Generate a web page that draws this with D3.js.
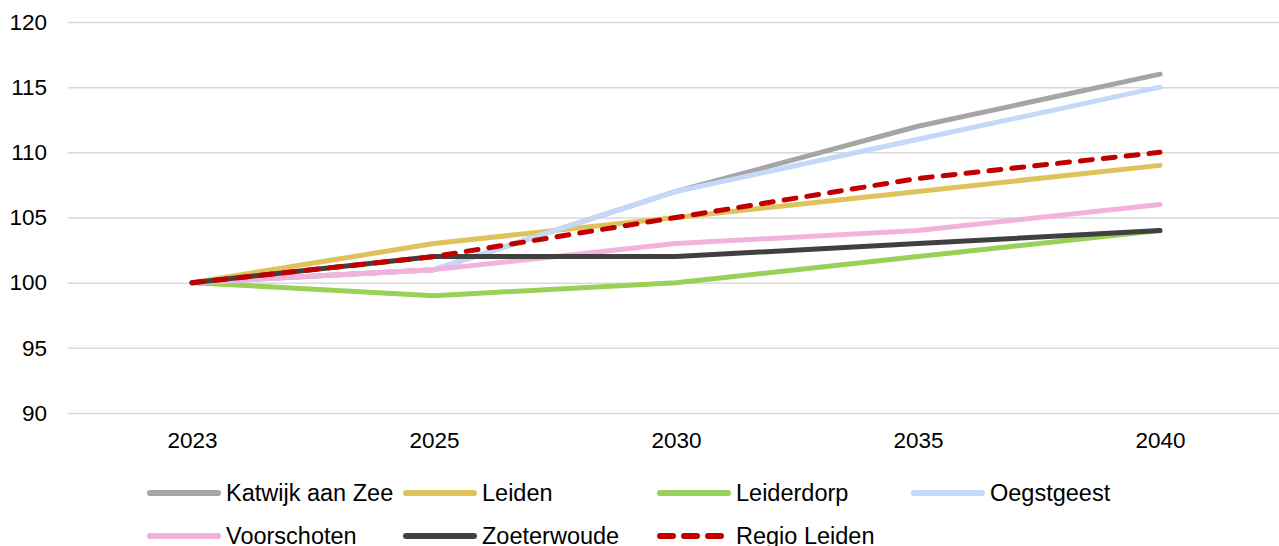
<!DOCTYPE html>
<html>
<head>
<meta charset="utf-8">
<script src="https://cdn.jsdelivr.net/npm/d3@7"></script>
<style>
  body { margin: 0; background: #fff; }
  svg { display: block; font-family: Arial, "Liberation Sans", sans-serif; }
</style>
</head>
<body>
<script>
// chart values
const years = ['2023', '2025', '2030', '2035', '2040']
const yTicks = [90, 95, 100, 105, 110, 115, 120]

const katwijk     = [100, 101, 107, 112, 116]
const leiden      = [100, 103, 105, 107, 109]
const leiderdorp  = [100, 99, 100, 102, 104]
const oegstgeest  = [100, 101, 107, 111, 115]
const voorschoten = [100, 101, 103, 104, 106]
const zoeterwoude = [100, 102, 102, 103, 104]
const regio       = [100, 102, 105, 108, 110]

const series = [
    { name: 'Katwijk aan Zee', values: katwijk, color: '#a5a5a5' },
    { name: 'Leiden', values: leiden, color: '#dec35c' },
    { name: 'Leiderdorp', values: leiderdorp, color: '#99d058' },
    { name: 'Oegstgeest', values: oegstgeest, color: '#c4d8fa' },
    { name: 'Voorschoten', values: voorschoten, color: '#f2b2dc' },
    { name: 'Zoeterwoude', values: zoeterwoude, color: '#404040' },
    { name: 'Regio Leiden', values: regio, color: '#c00000', dash: true }
]

const m = { width: 1279, height: 546 }

const svg = d3.select('body').append('svg')
    .attr('width', m.width)
    .attr('height', m.height)

const x = d3.scalePoint()
    .domain(years)
    .range([71, 1281])
    .padding(0.5)

const y = d3.scaleLinear()
    .domain([90, 120])
    .range([413, 22])

// gridlines + y labels
const yAxis = d3.axisLeft(y)
    .tickValues(yTicks)
    .tickSize(-(1279 - 68))
    .tickPadding(8)

svg.append('g')
    .attr('transform', 'translate(68,0)')
    .call(yAxis)
    .call(g => g.select('.domain').remove())
    .call(g => g.selectAll('.tick line').attr('stroke', '#d9d9d9').attr('stroke-width', 1.5))
    .call(g => g.selectAll('.tick text')
        .attr('font-size', '22.5px')
        .attr('fill', '#000')
        .attr('x', -21))

// x labels
svg.append('g')
    .attr('transform', 'translate(0,413)')
    .call(d3.axisBottom(x).tickSize(0).tickPadding(19))
    .call(g => g.select('.domain').remove())
    .call(g => g.selectAll('.tick text')
        .attr('font-size', '22.5px')
        .attr('fill', '#000'))

const line = d3.line()
    .x((d, i) => x(years[i]))
    .y(d => y(d))

svg.append('g').selectAll('path')
    .data(series)
    .enter()
    .append('path')
        .attr('d', d => line(d.values))
        .attr('fill', 'none')
        .attr('stroke', d => d.color)
        .attr('stroke-width', 5)
        .attr('stroke-linecap', 'round')
        .attr('stroke-linejoin', 'round')
        .attr('stroke-dasharray', d => d.dash ? '12,11' : null)

// legend
const colX = [148, 404, 658, 912]
const rowY = [493, 536]

const legend = svg.append('g').selectAll('g')
    .data(series)
    .enter()
    .append('g')
        .attr('transform', (d, i) => `translate(${colX[i % 4]},${rowY[Math.floor(i / 4)]})`)

legend.append('line')
    .attr('x1', 2)
    .attr('x2', d => d.dash ? 72 : 70)
    .attr('stroke', d => d.color)
    .attr('stroke-width', 6)
    .attr('stroke-linecap', 'round')
    .attr('stroke-dasharray', d => d.dash ? '13,11' : null)

legend.append('text')
    .attr('x', 78)
    .attr('dy', '0.35em')
    .attr('font-size', '23.5px')
    .attr('fill', '#000')
    .text(d => d.name)
</script>
</body>
</html>
